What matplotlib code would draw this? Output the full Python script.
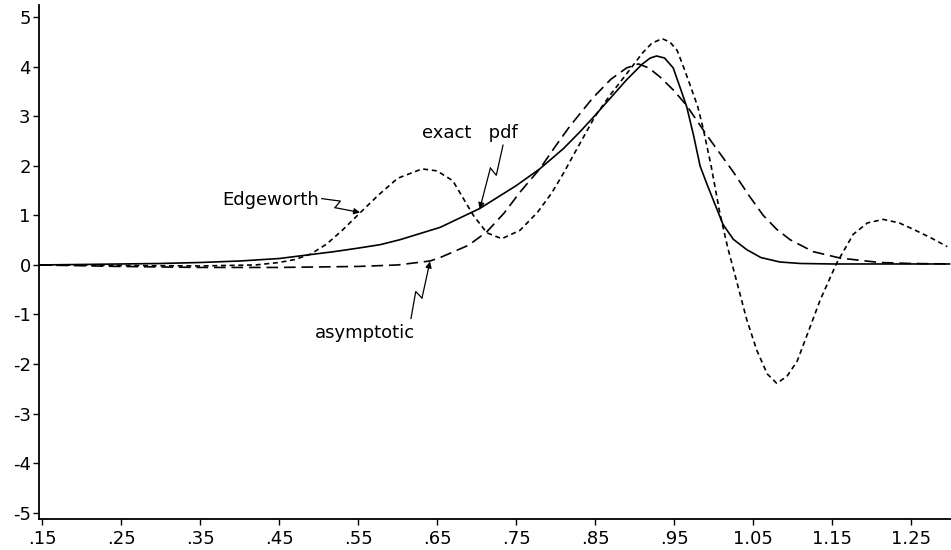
import numpy as np
import matplotlib
matplotlib.use("Agg")
import matplotlib.pyplot as plt

# ---------------- data ----------------
exact_x = [0.146, 0.20, 0.25, 0.30, 0.35, 0.40, 0.45, 0.485, 0.52, 0.55, 0.578, 0.603,
           0.654, 0.704, 0.75, 0.78, 0.81, 0.831, 0.85, 0.87, 0.89, 0.91, 0.92, 0.928,
           0.938, 0.949, 0.958, 0.966, 0.975, 0.983, 0.992, 1.0, 1.012, 1.025, 1.042,
           1.06, 1.084, 1.11, 1.15, 1.2, 1.25, 1.30]
exact_y = [0.0, 0.01, 0.02, 0.03, 0.05, 0.08, 0.13, 0.2, 0.27, 0.34, 0.41, 0.51,
           0.76, 1.14, 1.6, 1.94, 2.35, 2.69, 3.02, 3.38, 3.74, 4.06, 4.18, 4.22,
           4.18, 3.98, 3.57, 3.2, 2.6, 2.0, 1.62, 1.3, 0.82, 0.52, 0.31,
           0.15, 0.06, 0.03, 0.02, 0.02, 0.02, 0.02]

edge_x = [0.146, 0.25, 0.35, 0.42, 0.45, 0.47, 0.49, 0.51, 0.53, 0.553, 0.575, 0.60,
          0.631, 0.65, 0.67, 0.683, 0.696, 0.713, 0.732, 0.755, 0.777, 0.795, 0.81,
          0.822, 0.85, 0.87, 0.89, 0.91, 0.922, 0.935, 0.945, 0.954, 0.962, 0.97,
          0.98, 0.987, 0.997, 1.008, 1.018, 1.03, 1.042, 1.055, 1.068, 1.08, 1.093,
          1.106, 1.12, 1.135, 1.156, 1.177, 1.195, 1.215, 1.235, 1.253, 1.275, 1.296]
edge_y = [0.0, -0.01, -0.02, 0.0, 0.05, 0.11, 0.22, 0.42, 0.7, 1.06, 1.4, 1.75,
          1.94, 1.9, 1.7, 1.35, 1.0, 0.65, 0.53, 0.7, 1.06, 1.45, 1.85,
          2.2, 3.0, 3.45, 3.86, 4.28, 4.48, 4.57, 4.5, 4.33, 4.0, 3.65,
          3.2, 2.75, 2.0, 1.05, 0.35, -0.37, -1.1, -1.73, -2.2, -2.39, -2.25,
          -1.94, -1.35, -0.71, 0.04, 0.62, 0.85, 0.92, 0.85, 0.72, 0.55, 0.37]

asym_x = [0.146, 0.25, 0.35, 0.45, 0.55, 0.60, 0.641, 0.654, 0.69, 0.713, 0.735, 0.755,
          0.78, 0.80, 0.818, 0.847, 0.87, 0.89, 0.905, 0.918, 0.932, 0.95, 0.966, 0.992,
          1.025, 1.045, 1.063, 1.08, 1.097, 1.126, 1.16, 1.21, 1.25, 1.30]
asym_y = [0.0, -0.03, -0.05, -0.05, -0.03, 0.0, 0.08, 0.15, 0.4, 0.67, 1.05, 1.47,
          1.94, 2.4, 2.8, 3.37, 3.75, 3.98, 4.06, 3.98, 3.8, 3.52, 3.22, 2.61,
          1.88, 1.4, 1.0, 0.72, 0.51, 0.27, 0.14, 0.05, 0.03, 0.02]

xticks = [0.15, 0.25, 0.35, 0.45, 0.55, 0.65, 0.75, 0.85, 0.95, 1.05, 1.15, 1.25]
xtick_labels = [".15", ".25", ".35", ".45", ".55", ".65", ".75", ".85", ".95",
                "1.05", "1.15", "1.25"]
yticks = [5, 4, 3, 2, 1, 0, -1, -2, -3, -4, -5]
ytick_labels = ["5", "4", "3", "2", "1", "0", "-1", "-2", "-3", "-4", "-5"]

labels = ["exact   pdf", "Edgeworth", "asymptotic"]
label_pos = [(0.692, 2.67), (0.5, 1.32), (0.559, -1.38)]
arrow_start = [(0.7335, 2.42), (0.504, 1.34), (0.617, -1.08)]
arrow_end = [(0.704, 1.13), (0.5525, 1.06), (0.641, 0.07)]

# ---------------- figure ----------------
plt.rcParams['font.family'] = ['DejaVu Sans']
fig = plt.figure(figsize=(9.51, 5.5), dpi=100)
ax = fig.add_axes([0.041, 0.0564, 0.959, 0.9345])

ax.plot(exact_x, exact_y, color='black', lw=1.2, solid_capstyle='butt')
ax.plot(edge_x, edge_y, color='black', lw=1.2, dashes=(3, 2.2))
ax.plot(asym_x, asym_y, color='black', lw=1.2, dashes=(7, 3.5))

ax.set_xlim(0.146, 1.3007)
ax.set_ylim(-5.13, 5.25)
ax.set_xticks(xticks)
ax.set_xticklabels(xtick_labels)
ax.set_yticks(yticks)
ax.set_yticklabels(ytick_labels)
ax.tick_params(direction='out', length=4, width=1, labelsize=13)
ax.tick_params(axis='x', pad=4)
ax.tick_params(axis='y', pad=2)
for s in ['top', 'right']:
    ax.spines[s].set_visible(False)
for s in ['left', 'bottom']:
    ax.spines[s].set_linewidth(1.3)

# text labels
ax.text(*label_pos[0], labels[0], ha='center', va='center', fontsize=13)
ax.text(*label_pos[1], labels[1], ha='right', va='center', fontsize=13)
ax.text(*label_pos[2], labels[2], ha='center', va='center', fontsize=13)

# lightning arrows
fig.canvas.draw()
t = ax.transData
inv = t.inverted()
for st, en in zip(arrow_start, arrow_end):
    p0 = t.transform(st)
    p1 = t.transform(en)
    d = p1 - p0
    L = np.hypot(*d)
    u = d / L
    n = np.array([-u[1], u[0]])
    A = p0 + 0.45 * d + n * 4
    B = p0 + 0.38 * d - n * 4
    pts = inv.transform(np.array([p0, A, B]))
    ax.plot(pts[:, 0], pts[:, 1], color='black', lw=0.9)
    ax.annotate('', xy=en, xytext=tuple(pts[-1]),
                arrowprops=dict(arrowstyle='-|>', lw=0.9, color='black',
                                mutation_scale=9, shrinkA=0, shrinkB=0))

fig.savefig('out.png', dpi=100)
